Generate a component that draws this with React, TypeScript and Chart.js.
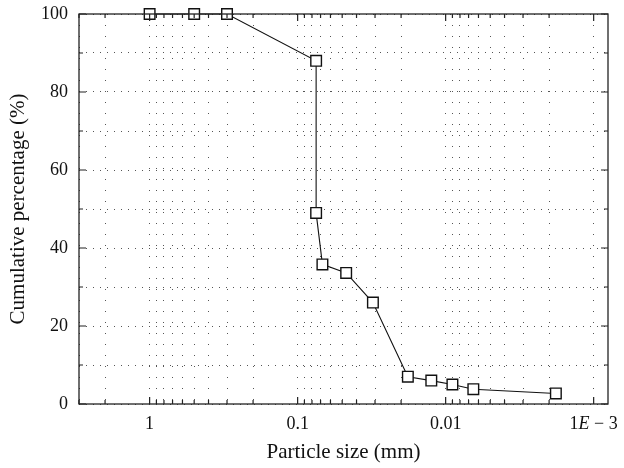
import React, { useEffect, useRef } from "react";
import { Chart, registerables } from "chart.js";

Chart.register(...registerables);

const particleSize = [1, 0.5, 0.3, 0.075, 0.075, 0.068, 0.047, 0.031, 0.018, 0.0125, 0.009, 0.0065, 0.0018];
const cumulative = [100, 100, 100, 88, 49, 35.8, 33.6, 26, 7, 6, 5, 3.8, 2.7];
const xMajorTicks = [1, 0.1, 0.01, 0.001];
const xMajorLabels = ["1", "0.1", "0.01", ""];
const xLastLabel = ["1", "E", " \u2212 3"];
const xMinorMultipliers = [2, 3, 4, 5, 6, 7, 8, 9];
const yTicks = [0, 10, 20, 30, 40, 50, 60, 70, 80, 90, 100];
const yLabelStep = 20;

const FONT = "'Liberation Serif', 'DejaVu Serif', serif";
const TICK_SIZE = 18;
const TITLE_SIZE = 21;

const framePlugin = {
  id: "frame",
  afterDatasetsDraw(chart: any) {
    const { ctx, chartArea: a, scales } = chart;
    const xs = scales.x;
    const ys = scales.y;
    ctx.save();
    ctx.strokeStyle = "#222";
    ctx.lineWidth = 1.3;
    ctx.strokeRect(a.left, a.top, a.right - a.left, a.bottom - a.top);
    ctx.lineWidth = 1.2;
    xs.ticks.forEach((t: any) => {
      const px = xs.getPixelForValue(t.value);
      if (px < a.left - 0.5 || px > a.right + 0.5) return;
      const major = xMajorTicks.some((m) => Math.abs(m - t.value) / m < 1e-6);
      const len = major ? 7 : 4;
      ctx.beginPath();
      ctx.moveTo(px, a.bottom);
      ctx.lineTo(px, a.bottom - len);
      ctx.moveTo(px, a.top);
      ctx.lineTo(px, a.top + len);
      ctx.stroke();
    });
    ys.ticks.forEach((t: any) => {
      const py = ys.getPixelForValue(t.value);
      const major = t.value % yLabelStep === 0;
      const len = major ? 7 : 4;
      ctx.beginPath();
      ctx.moveTo(a.left, py);
      ctx.lineTo(a.left + len, py);
      ctx.moveTo(a.right, py);
      ctx.lineTo(a.right - len, py);
      ctx.stroke();
    });
    // last x label with italic E
    const px = xs.getPixelForValue(0.001);
    const normal = `${TICK_SIZE}px ${FONT}`;
    const italic = `italic ${TICK_SIZE}px ${FONT}`;
    const fonts = [normal, italic, normal];
    let total = 0;
    const widths = xLastLabel.map((s, i) => {
      ctx.font = fonts[i];
      const w = ctx.measureText(s).width;
      total += w;
      return w;
    });
    let x = px - total / 2;
    ctx.fillStyle = "#111";
    ctx.textBaseline = "middle";
    ctx.textAlign = "left";
    const y = a.bottom + 9 + TICK_SIZE * 0.6;
    xLastLabel.forEach((s, i) => {
      ctx.font = fonts[i];
      ctx.fillText(s, x, y);
      x += widths[i];
    });
    ctx.restore();
  },
};

export default function App() {
  const ref = useRef<HTMLCanvasElement | null>(null);
  useEffect(() => {
    document.body.style.margin = "0";
    const canvas = ref.current!;
    const chart = new Chart(canvas, {
      type: "line",
      data: {
        datasets: [
          {
            data: particleSize.map((x, i) => ({ x, y: cumulative[i] })),
            borderColor: "#111",
            borderWidth: 1.1,
            pointStyle: "rect",
            pointRadius: 7.5,
            pointBorderWidth: 1.4,
            pointBackgroundColor: "#fff",
            pointBorderColor: "#111",
            tension: 0,
            clip: false as any,
          },
        ],
      },
      options: {
        animation: false,
        responsive: false,
        layout: { padding: { left: 0, right: 16, top: 0, bottom: 0 } },
        plugins: { legend: { display: false }, tooltip: { enabled: false } },
        scales: {
          x: {
            type: "logarithmic",
            reverse: true,
            min: 0.0008,
            max: 3,
            afterBuildTicks(scale: any) {
              const ticks: any[] = [];
              const decades = [10, 1, 0.1, 0.01, 0.001];
              decades.forEach((d) => {
                if (d >= 0.0008 && d <= 3) ticks.push({ value: d });
                xMinorMultipliers.forEach((m) => {
                  const v = d * m;
                  if (v >= 0.0008 && v <= 3.0001 && !xMajorTicks.includes(v)) ticks.push({ value: v });
                });
              });
              scale.ticks = ticks;
            },
            afterFit(scale: any) {
              scale.height = 64;
              scale.paddingLeft = 0;
              scale.paddingRight = 0;
            },
            ticks: {
              autoSkip: false,
              maxRotation: 0,
              padding: 9,
              color: "#111",
              font: { family: FONT, size: TICK_SIZE },
              callback(value: any) {
                const idx = xMajorTicks.findIndex((m) => Math.abs(m - value) / m < 1e-6);
                return idx >= 0 ? xMajorLabels[idx] : "";
              },
            },
            grid: {
              drawTicks: false,
              tickLength: 0,
              color: "#555",
              lineWidth: 1,
            },
            border: { display: false, dash: [1, 10] },
            title: {
              display: true,
              text: "Particle size (mm)",
              color: "#111",
              font: { family: FONT, size: TITLE_SIZE },
              padding: { top: 4, bottom: 3 },
            },
          } as any,
          y: {
            type: "linear",
            min: 0,
            max: 100,
            afterBuildTicks(scale: any) {
              scale.ticks = yTicks.map((v) => ({ value: v }));
            },
            afterFit(scale: any) {
              scale.width = 79;
              scale.paddingTop = 14;
              scale.paddingBottom = 0;
            },
            ticks: {
              autoSkip: false,
              padding: 11,
              color: "#111",
              font: { family: FONT, size: TICK_SIZE },
              callback(value: any) {
                return value % yLabelStep === 0 ? String(value) : "";
              },
            },
            grid: {
              drawTicks: false,
              tickLength: 0,
              color: "#555",
              lineWidth: 1,
            },
            border: { display: false, dash: [1, 6] },
            title: {
              display: true,
              text: "Cumulative percentage (%)",
              color: "#111",
              font: { family: FONT, size: TITLE_SIZE },
              padding: { top: 6, bottom: 4 },
            },
          } as any,
        },
      },
      plugins: [framePlugin],
    });
    return () => chart.destroy();
  }, []);
  return (
    <div style={{ width: 624, height: 468 }}>
      <canvas ref={ref} width={624} height={468} style={{ display: "block" }} />
    </div>
  );
}
